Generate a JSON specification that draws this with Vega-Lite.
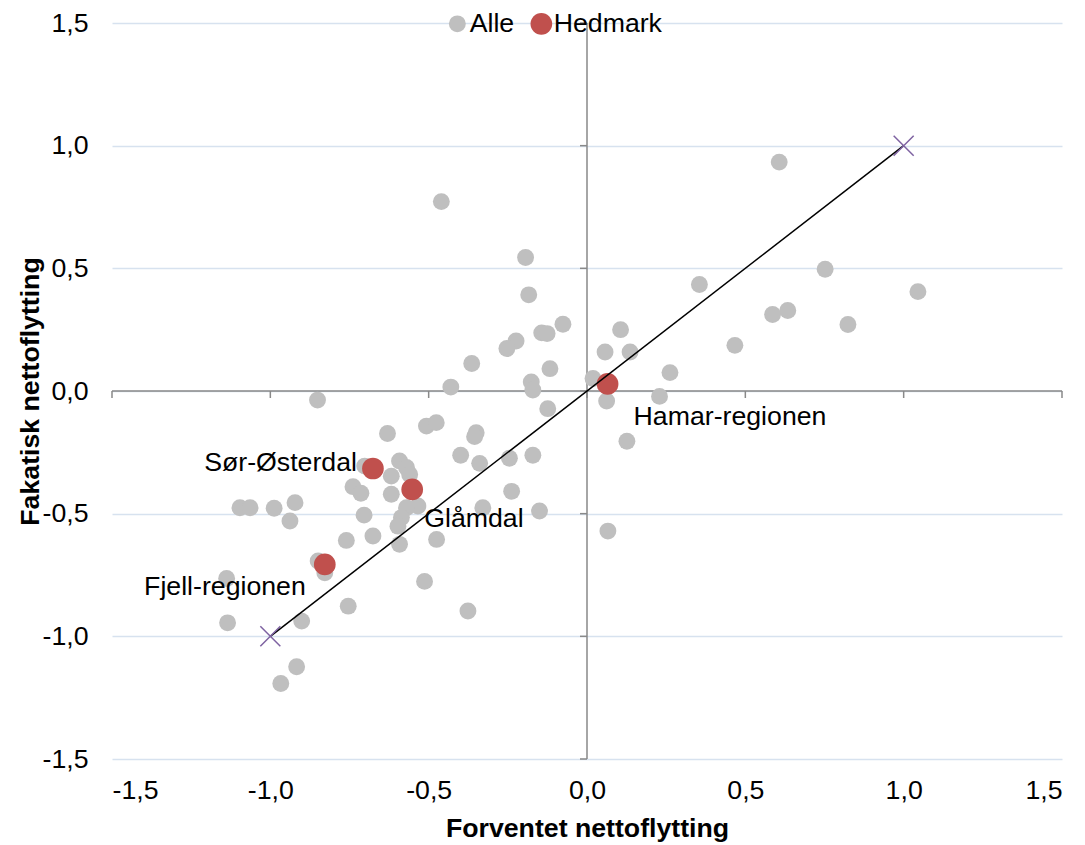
{
  "$schema": "https://vega.github.io/schema/vega-lite/v6.json",
  "width": 950,
  "height": 736,
  "autosize": {"type": "none"},
  "padding": {"left": 112, "top": 23, "right": 23, "bottom": 86},
  "background": "white",
  "config": {
    "font": "Liberation Sans",
    "view": {"stroke": null},
    "text": {"font": "Liberation Sans"}
  },
  "datasets": {
    "punkter": [
      {"x": -0.460, "y": 0.772, "serie": "Alle", "navn": ""},
      {"x": -0.194, "y": 0.544, "serie": "Alle", "navn": ""},
      {"x": -0.184, "y": 0.392, "serie": "Alle", "navn": ""},
      {"x": -0.076, "y": 0.272, "serie": "Alle", "navn": ""},
      {"x": -0.143, "y": 0.237, "serie": "Alle", "navn": ""},
      {"x": -0.126, "y": 0.234, "serie": "Alle", "navn": ""},
      {"x": -0.224, "y": 0.204, "serie": "Alle", "navn": ""},
      {"x": -0.253, "y": 0.173, "serie": "Alle", "navn": ""},
      {"x": -0.364, "y": 0.112, "serie": "Alle", "navn": ""},
      {"x": -0.117, "y": 0.091, "serie": "Alle", "navn": ""},
      {"x": -0.176, "y": 0.037, "serie": "Alle", "navn": ""},
      {"x": -0.171, "y": 0.004, "serie": "Alle", "navn": ""},
      {"x": -0.430, "y": 0.016, "serie": "Alle", "navn": ""},
      {"x": 0.019, "y": 0.051, "serie": "Alle", "navn": ""},
      {"x": 0.607, "y": 0.933, "serie": "Alle", "navn": ""},
      {"x": 0.752, "y": 0.496, "serie": "Alle", "navn": ""},
      {"x": 1.045, "y": 0.405, "serie": "Alle", "navn": ""},
      {"x": 0.355, "y": 0.434, "serie": "Alle", "navn": ""},
      {"x": 0.586, "y": 0.312, "serie": "Alle", "navn": ""},
      {"x": 0.634, "y": 0.328, "serie": "Alle", "navn": ""},
      {"x": 0.824, "y": 0.271, "serie": "Alle", "navn": ""},
      {"x": 0.467, "y": 0.186, "serie": "Alle", "navn": ""},
      {"x": 0.106, "y": 0.250, "serie": "Alle", "navn": ""},
      {"x": 0.057, "y": 0.159, "serie": "Alle", "navn": ""},
      {"x": 0.136, "y": 0.159, "serie": "Alle", "navn": ""},
      {"x": 0.262, "y": 0.075, "serie": "Alle", "navn": ""},
      {"x": 0.229, "y": -0.022, "serie": "Alle", "navn": ""},
      {"x": 0.062, "y": -0.041, "serie": "Alle", "navn": ""},
      {"x": 0.126, "y": -0.205, "serie": "Alle", "navn": ""},
      {"x": 0.066, "y": -0.571, "serie": "Alle", "navn": ""},
      {"x": -0.851, "y": -0.037, "serie": "Alle", "navn": ""},
      {"x": -0.124, "y": -0.072, "serie": "Alle", "navn": ""},
      {"x": -0.630, "y": -0.173, "serie": "Alle", "navn": ""},
      {"x": -0.507, "y": -0.143, "serie": "Alle", "navn": ""},
      {"x": -0.476, "y": -0.129, "serie": "Alle", "navn": ""},
      {"x": -0.350, "y": -0.170, "serie": "Alle", "navn": ""},
      {"x": -0.355, "y": -0.186, "serie": "Alle", "navn": ""},
      {"x": -0.399, "y": -0.262, "serie": "Alle", "navn": ""},
      {"x": -0.339, "y": -0.295, "serie": "Alle", "navn": ""},
      {"x": -0.245, "y": -0.274, "serie": "Alle", "navn": ""},
      {"x": -0.171, "y": -0.262, "serie": "Alle", "navn": ""},
      {"x": -0.238, "y": -0.409, "serie": "Alle", "navn": ""},
      {"x": -0.329, "y": -0.476, "serie": "Alle", "navn": ""},
      {"x": -0.150, "y": -0.489, "serie": "Alle", "navn": ""},
      {"x": -0.475, "y": -0.605, "serie": "Alle", "navn": ""},
      {"x": -0.513, "y": -0.776, "serie": "Alle", "navn": ""},
      {"x": -0.376, "y": -0.897, "serie": "Alle", "navn": ""},
      {"x": -0.702, "y": -0.306, "serie": "Alle", "navn": ""},
      {"x": -0.592, "y": -0.285, "serie": "Alle", "navn": ""},
      {"x": -0.570, "y": -0.312, "serie": "Alle", "navn": ""},
      {"x": -0.560, "y": -0.340, "serie": "Alle", "navn": ""},
      {"x": -0.618, "y": -0.347, "serie": "Alle", "navn": ""},
      {"x": -0.739, "y": -0.390, "serie": "Alle", "navn": ""},
      {"x": -0.714, "y": -0.417, "serie": "Alle", "navn": ""},
      {"x": -0.618, "y": -0.421, "serie": "Alle", "navn": ""},
      {"x": -0.534, "y": -0.469, "serie": "Alle", "navn": ""},
      {"x": -0.570, "y": -0.476, "serie": "Alle", "navn": ""},
      {"x": -0.586, "y": -0.516, "serie": "Alle", "navn": ""},
      {"x": -0.597, "y": -0.551, "serie": "Alle", "navn": ""},
      {"x": -0.592, "y": -0.625, "serie": "Alle", "navn": ""},
      {"x": -0.704, "y": -0.506, "serie": "Alle", "navn": ""},
      {"x": -0.676, "y": -0.591, "serie": "Alle", "navn": ""},
      {"x": -0.760, "y": -0.609, "serie": "Alle", "navn": ""},
      {"x": -1.096, "y": -0.476, "serie": "Alle", "navn": ""},
      {"x": -1.064, "y": -0.476, "serie": "Alle", "navn": ""},
      {"x": -0.988, "y": -0.478, "serie": "Alle", "navn": ""},
      {"x": -0.922, "y": -0.455, "serie": "Alle", "navn": ""},
      {"x": -0.938, "y": -0.530, "serie": "Alle", "navn": ""},
      {"x": -1.138, "y": -0.764, "serie": "Alle", "navn": ""},
      {"x": -0.849, "y": -0.693, "serie": "Alle", "navn": ""},
      {"x": -0.828, "y": -0.741, "serie": "Alle", "navn": ""},
      {"x": -0.754, "y": -0.877, "serie": "Alle", "navn": ""},
      {"x": -0.901, "y": -0.938, "serie": "Alle", "navn": ""},
      {"x": -1.135, "y": -0.945, "serie": "Alle", "navn": ""},
      {"x": -0.917, "y": -1.124, "serie": "Alle", "navn": ""},
      {"x": -0.967, "y": -1.192, "serie": "Alle", "navn": ""},
      {"x": -0.676, "y": -0.316, "serie": "Hedmark", "navn": "Sør-Østerdal"},
      {"x": -0.552, "y": -0.401, "serie": "Hedmark", "navn": "Glåmdal"},
      {"x": -0.828, "y": -0.707, "serie": "Hedmark", "navn": "Fjell-regionen"},
      {"x": 0.065, "y": 0.029, "serie": "Hedmark", "navn": "Hamar-regionen"}
    ],
    "linje": [{"x": -1, "y": -1}, {"x": 1, "y": 1}],
    "aksemerker": [{"v": -1.5}, {"v": -1}, {"v": -0.5}, {"v": 0}, {"v": 0.5}, {"v": 1}, {"v": 1.5}]
  },
  "layer": [
    {
      "data": {"values": [{}]},
      "mark": {"type": "rule", "color": "#898989", "strokeWidth": 1.5},
      "encoding": {
        "x": {"datum": -1.5, "type": "quantitative"},
        "x2": {"datum": 1.5},
        "y": {"datum": 0, "type": "quantitative"}
      }
    },
    {
      "data": {"values": [{}]},
      "mark": {"type": "rule", "color": "#898989", "strokeWidth": 1.5},
      "encoding": {
        "x": {"datum": 0, "type": "quantitative"},
        "y": {"datum": -1.5, "type": "quantitative"},
        "y2": {"datum": 1.5}
      }
    },
    {
      "data": {"name": "aksemerker"},
      "mark": {"type": "rule", "color": "#898989", "strokeWidth": 1.5, "y2Offset": 7},
      "encoding": {
        "x": {"field": "v", "type": "quantitative"},
        "y": {"datum": 0, "type": "quantitative"},
        "y2": {"datum": 0}
      }
    },
    {
      "data": {"name": "aksemerker"},
      "mark": {"type": "rule", "color": "#898989", "strokeWidth": 1.5, "x2Offset": -7},
      "encoding": {
        "y": {"field": "v", "type": "quantitative"},
        "x": {"datum": 0, "type": "quantitative"},
        "x2": {"datum": 0}
      }
    },
    {
      "data": {"name": "punkter"},
      "mark": {"type": "circle", "opacity": 1, "strokeWidth": 0},
      "encoding": {
        "x": {
          "field": "x", "type": "quantitative",
          "scale": {"domain": [-1.5, 1.5], "nice": false, "zero": false},
          "axis": {
            "title": "Forventet nettoflytting",
            "values": [-1.5, -1, -0.5, 0, 0.5, 1, 1.5],
            "labelExpr": "(datum.value < 0 ? '-' : '') + replace(format(abs(datum.value), '.1f'), '.', ',')",
            "domain": false, "ticks": false, "tickSize": 0, "grid": false,
            "labelFontSize": 26.7, "labelColor": "#000000", "labelPadding": 18,
            "labelFont": "Liberation Sans",
            "titleFont": "Liberation Sans", "titleFontSize": 26.7, "titleFontWeight": "bold", "titleColor": "#000000",
            "titleX": 475, "titleY": 77, "titleBaseline": "alphabetic", "titleAlign": "center"
          }
        },
        "y": {
          "field": "y", "type": "quantitative",
          "scale": {"domain": [-1.5, 1.5], "nice": false, "zero": false},
          "axis": {
            "title": "Fakatisk nettoflytting",
            "values": [-1.5, -1, -0.5, 0, 0.5, 1, 1.5],
            "labelExpr": "(datum.value < 0 ? '-' : '') + replace(format(abs(datum.value), '.1f'), '.', ',')",
            "domain": false, "ticks": false, "tickSize": 0,
            "grid": true, "gridColor": "#D7E2EF", "gridWidth": 1.5,
            "labelFontSize": 26.7, "labelColor": "#000000", "labelPadding": 24,
            "labelFont": "Liberation Sans",
            "titleFont": "Liberation Sans", "titleFontSize": 26.7, "titleFontWeight": "bold", "titleColor": "#000000",
            "titleAngle": 270, "titleX": -74, "titleY": 368, "titleBaseline": "alphabetic", "titleAlign": "center"
          }
        },
        "color": {
          "field": "serie", "type": "nominal",
          "scale": {"domain": ["Alle", "Hedmark"], "range": ["#BFBFBF", "#C0504D"]},
          "legend": {
            "title": null, "orient": "none", "direction": "horizontal",
            "legendX": 332, "legendY": -13,
            "labelFontSize": 26.7, "labelColor": "#000000", "labelFont": "Liberation Sans",
            "labelOffset": -1, "columnPadding": 13, "padding": 0,
            "symbolType": "circle", "symbolStrokeWidth": 0
          }
        },
        "size": {
          "field": "serie", "type": "nominal",
          "scale": {"domain": ["Alle", "Hedmark"], "range": [285, 470]},
          "legend": {
            "title": null, "orient": "none", "direction": "horizontal",
            "legendX": 332, "legendY": -13,
            "labelFontSize": 26.7, "labelColor": "#000000", "labelFont": "Liberation Sans",
            "labelOffset": -1, "columnPadding": 13, "padding": 0,
            "symbolType": "circle", "symbolStrokeWidth": 0
          }
        }
      }
    },
    {
      "data": {"name": "linje"},
      "mark": {"type": "line", "color": "#000000", "strokeWidth": 1.5},
      "encoding": {
        "x": {"field": "x", "type": "quantitative"},
        "y": {"field": "y", "type": "quantitative"}
      }
    },
    {
      "data": {"name": "linje"},
      "mark": {"type": "point", "shape": "M -1 -1 L 1 1 M -1 1 L 1 -1", "size": 400, "filled": false, "stroke": "#7E62A1", "strokeWidth": 1.5, "opacity": 1},
      "encoding": {
        "x": {"field": "x", "type": "quantitative"},
        "y": {"field": "y", "type": "quantitative"}
      }
    },
    {
      "data": {"name": "punkter"},
      "transform": [{"filter": "datum.navn == 'Sør-Østerdal'"}],
      "mark": {"type": "text", "align": "right", "baseline": "alphabetic", "dx": -16, "dy": 2, "fontSize": 26.7, "color": "#000000"},
      "encoding": {
        "x": {"field": "x", "type": "quantitative"},
        "y": {"field": "y", "type": "quantitative"},
        "text": {"field": "navn"}
      }
    },
    {
      "data": {"name": "punkter"},
      "transform": [{"filter": "datum.navn == 'Glåmdal'"}],
      "mark": {"type": "text", "align": "left", "baseline": "alphabetic", "dx": 12, "dy": 38, "fontSize": 26.7, "color": "#000000"},
      "encoding": {
        "x": {"field": "x", "type": "quantitative"},
        "y": {"field": "y", "type": "quantitative"},
        "text": {"field": "navn"}
      }
    },
    {
      "data": {"name": "punkter"},
      "transform": [{"filter": "datum.navn == 'Fjell-regionen'"}],
      "mark": {"type": "text", "align": "right", "baseline": "alphabetic", "dx": -19, "dy": 31, "fontSize": 26.7, "color": "#000000"},
      "encoding": {
        "x": {"field": "x", "type": "quantitative"},
        "y": {"field": "y", "type": "quantitative"},
        "text": {"field": "navn"}
      }
    },
    {
      "data": {"name": "punkter"},
      "transform": [{"filter": "datum.navn == 'Hamar-regionen'"}],
      "mark": {"type": "text", "align": "left", "baseline": "alphabetic", "dx": 26, "dy": 41, "fontSize": 26.7, "color": "#000000"},
      "encoding": {
        "x": {"field": "x", "type": "quantitative"},
        "y": {"field": "y", "type": "quantitative"},
        "text": {"field": "navn"}
      }
    }
  ]
}
